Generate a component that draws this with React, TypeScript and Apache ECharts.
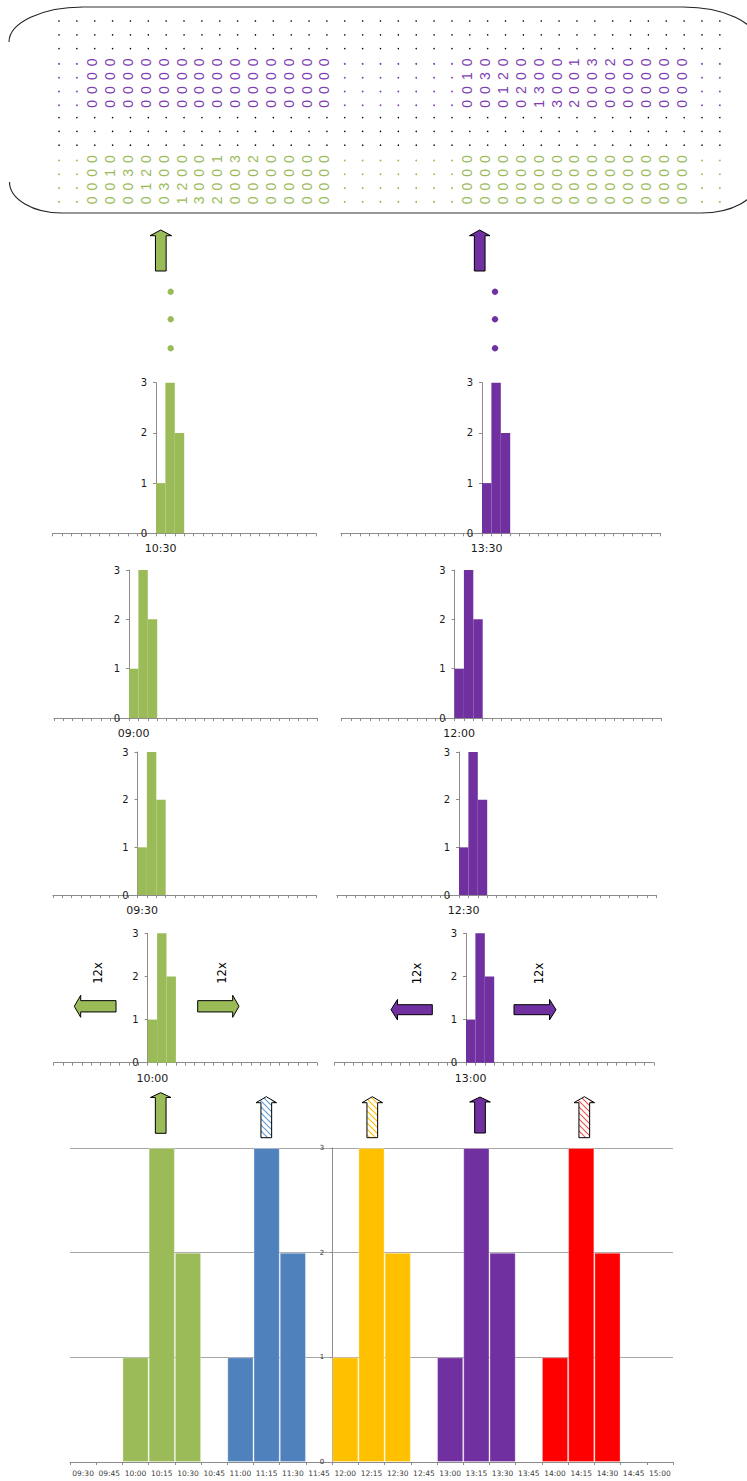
import React, { useEffect, useRef } from 'react';
import * as echarts from 'echarts';

// ---------- DATA ----------
const histValues = [1, 3, 2];

const leftCats = ['05:00', '05:30', '06:00', '06:30', '07:00', '07:30', '08:00', '08:30', '09:00', '09:30', '10:00', '10:30', '11:00', '11:30', '12:00', '12:30', '13:00', '13:30', '14:00', '14:30', '15:00', '15:30', '16:00', '16:30', '17:00', '17:30', '18:00', '18:30'];
const rightCats = ['06:00', '06:30', '07:00', '07:30', '08:00', '08:30', '09:00', '09:30', '10:00', '10:30', '11:00', '11:30', '12:00', '12:30', '13:00', '13:30', '14:00', '14:30', '15:00', '15:30', '16:00', '16:30', '17:00', '17:30', '18:00', '18:30', '19:00', '19:30', '20:00', '20:30', '21:00', '21:30', '22:00', '22:30'];
// rows of small charts, top to bottom
const leftStarts = ['10:30', '09:00', '09:30', '10:00'];
const rightStarts = ['13:30', '12:00', '12:30', '13:00'];

const bottomCats = ['09:30', '09:45', '10:00', '10:15', '10:30', '10:45', '11:00', '11:15', '11:30', '11:45', '12:00', '12:15', '12:30', '12:45', '13:00', '13:15', '13:30', '13:45', '14:00', '14:15', '14:30', '14:45', '15:00'];
const _ = null;
const greenBars = [_, _, 1, 3, 2, _, _, _, _, _, _, _, _, _, _, _, _, _, _, _, _, _, _];
const blueBars = [_, _, _, _, _, _, 1, 3, 2, _, _, _, _, _, _, _, _, _, _, _, _, _, _];
const orangeBars = [_, _, _, _, _, _, _, _, _, _, 1, 3, 2, _, _, _, _, _, _, _, _, _, _];
const purpleBars = [_, _, _, _, _, _, _, _, _, _, _, _, _, _, 1, 3, 2, _, _, _, _, _, _];
const redBars = [_, _, _, _, _, _, _, _, _, _, _, _, _, _, _, _, _, _, 1, 3, 2, _, _];

// top matrix
const rowKinds = ['k', 'k', 'k', 'p', 'p', 'p', 'p', 'k', 'k', 'k', 'g', 'g', 'g', 'g'];
const purpleLeft = [
  [0, 0, 0, 0, 0, 0, 0, 0, 0, 0, 0, 0, 0, 0],
  [0, 0, 0, 0, 0, 0, 0, 0, 0, 0, 0, 0, 0, 0],
  [0, 0, 0, 0, 0, 0, 0, 0, 0, 0, 0, 0, 0, 0],
  [0, 0, 0, 0, 0, 0, 0, 0, 0, 0, 0, 0, 0, 0],
];
const purpleRight = [
  [0, 0, 0, 0, 0, 0, 1, 3, 2, 0, 0, 0, 0],
  [1, 3, 2, 0, 0, 0, 0, 0, 0, 0, 0, 0, 0],
  [0, 0, 1, 2, 3, 0, 0, 0, 0, 0, 0, 0, 0],
  [0, 0, 0, 0, 1, 3, 2, 0, 0, 0, 0, 0, 0],
];
const greenLeft = [
  [0, 0, 0, 0, 0, 0, 0, 1, 3, 2, 0, 0, 0, 0],
  [0, 1, 3, 2, 0, 0, 0, 0, 0, 0, 0, 0, 0, 0],
  [0, 0, 0, 1, 3, 2, 0, 0, 0, 0, 0, 0, 0, 0],
  [0, 0, 0, 0, 0, 1, 3, 2, 0, 0, 0, 0, 0, 0],
];
const greenRight = [
  [0, 0, 0, 0, 0, 0, 0, 0, 0, 0, 0, 0, 0],
  [0, 0, 0, 0, 0, 0, 0, 0, 0, 0, 0, 0, 0],
  [0, 0, 0, 0, 0, 0, 0, 0, 0, 0, 0, 0, 0],
  [0, 0, 0, 0, 0, 0, 0, 0, 0, 0, 0, 0, 0],
];
const yTickValues = [0, 1, 2, 3];

// ---------- STYLE / LAYOUT ----------
const GREEN = '#9BBB59';
const PURPLE = '#7030A0';
const BLUE = '#4F81BD';
const ORANGE = '#FFC000';
const RED = '#FF0000';
const AXIS = '#8c8c8c';
const FONT = '"DejaVu Sans", sans-serif';

const MATRIX_COLS = 38;
const LEFT_BLOCK_START = 2;
const RIGHT_BLOCK_START = 23;

const catW = 9.4;
const rowTop = [382.7, 570, 752, 933.3];
const rowBottom = [533.3, 718, 895, 1062.7];
const leftAxisX = [156, 129, 137.5, 147.7];
const rightAxisX = [482, 454.5, 459, 466];

type Cell = { c: number; r: number; ch: string; color: string };

function buildCells(): Cell[] {
  const cells: Cell[] = [];
  let pi = 0;
  let gi = 0;
  rowKinds.forEach((kind, r) => {
    if (kind === 'k') {
      for (let c = 0; c < MATRIX_COLS; c++) cells.push({ c, r, ch: '.', color: '#000' });
      return;
    }
    const L = kind === 'p' ? purpleLeft[pi] : greenLeft[gi];
    const R = kind === 'p' ? purpleRight[pi] : greenRight[gi];
    const color = kind === 'p' ? '#7E3DB0' : '#9BBB59';
    for (let c = 0; c < MATRIX_COLS; c++) {
      let ch = '.';
      if (c >= LEFT_BLOCK_START && c < LEFT_BLOCK_START + L.length) ch = String(L[c - LEFT_BLOCK_START]);
      else if (c >= RIGHT_BLOCK_START && c < RIGHT_BLOCK_START + R.length) ch = String(R[c - RIGHT_BLOCK_START]);
      cells.push({ c, r, ch, color });
    }
    if (kind === 'p') pi++;
    else gi++;
  });
  return cells;
}

function hatch(color: string) {
  const svg = `<svg xmlns="http://www.w3.org/2000/svg" width="6" height="6"><rect width="6" height="6" fill="#ffffff"/><path d="M-1,-1 L7,7 M-1,5 L1,7 M5,-1 L7,1" stroke="${color}" stroke-width="1.1"/></svg>`;
  return {
    image: 'data:image/svg+xml;charset=utf-8,' + encodeURIComponent(svg),
    repeat: 'repeat',
    imageWidth: 6,
    imageHeight: 6,
  };
}

function upArrow(cx: number, tip: number, base: number, bottom: number, hw: number, sw: number, fill: any) {
  return {
    type: 'polygon',
    shape: {
      points: [[cx, tip], [cx + hw, base], [cx + sw, base], [cx + sw, bottom], [cx - sw, bottom], [cx - sw, base], [cx - hw, base]],
    },
    style: { fill, stroke: '#000', lineWidth: 1 },
    silent: true,
  };
}

function hArrow(tail: number, headBase: number, tip: number, cy: number, hh: number, sh: number, fill: string) {
  return {
    type: 'polygon',
    shape: {
      points: [[tip, cy], [headBase, cy - hh], [headBase, cy - sh], [tail, cy - sh], [tail, cy + sh], [headBase, cy + sh], [headBase, cy + hh]],
    },
    style: { fill, stroke: '#000', lineWidth: 1 },
    silent: true,
  };
}

function vText(x: number, y: number, text: string) {
  return {
    type: 'text',
    x,
    y,
    rotation: Math.PI / 2,
    style: { text, x: 0, y: 0, textAlign: 'center', textVerticalAlign: 'middle', font: `11.5px ${FONT}`, fill: '#000' },
    silent: true,
  };
}

function bez(x1: number, y1: number, cpx1: number, cpy1: number, cpx2: number, cpy2: number, x2: number, y2: number) {
  return {
    type: 'bezierCurve',
    shape: { x1, y1, cpx1, cpy1, cpx2, cpy2, x2, y2 },
    style: { stroke: '#222', lineWidth: 1.1, fill: 'none' },
    silent: true,
  };
}

function line(x1: number, y1: number, x2: number, y2: number) {
  return {
    type: 'line',
    shape: { x1, y1, x2, y2 },
    style: { stroke: '#333', lineWidth: 1.1 },
    silent: true,
  };
}

function buildOption() {
  const grids: any[] = [];
  const xAxes: any[] = [];
  const yAxes: any[] = [];
  const series: any[] = [];

  // ---- matrix ----
  const cells = buildCells();
  grids.push({ left: 59, top: 21, width: 37 * 17.86, height: 13 * 13.8, outerBoundsMode: 'none' });
  xAxes.push({ type: 'value', gridIndex: 0, min: 0, max: MATRIX_COLS - 1, show: false });
  yAxes.push({ type: 'value', gridIndex: 0, min: 0, max: rowKinds.length - 1, inverse: true, show: false });
  series.push({
    type: 'custom',
    xAxisIndex: 0,
    yAxisIndex: 0,
    silent: true,
    data: cells.map((d) => [d.c, d.r]),
    renderItem: (params: any, api: any) => {
      const cell = cells[params.dataIndex];
      const p = api.coord([cell.c, cell.r]);
      if (cell.ch === '.') {
        const black = cell.color === '#000';
        return {
          type: 'circle',
          shape: { cx: p[0], cy: p[1] + (black ? 0 : 1.5), r: black ? 0.75 : 0.9 },
          style: { fill: cell.color },
        };
      }
      return {
        type: 'text',
        x: p[0] - 2.5,
        y: p[1],
        rotation: Math.PI / 2,
        style: {
          text: cell.ch,
          x: 0,
          y: 0,
          textAlign: 'center',
          textVerticalAlign: 'middle',
          fill: cell.color,
          font: '14px "Liberation Sans", sans-serif',
        },
      };
    },
  });

  // ---- small charts ----
  const sides = [
    { cats: leftCats, starts: leftStarts, axisX: leftAxisX, color: GREEN },
    { cats: rightCats, starts: rightStarts, axisX: rightAxisX, color: PURPLE },
  ];
  for (let row = 0; row < 4; row++) {
    sides.forEach((s) => {
      const k = s.cats.indexOf(s.starts[row]);
      const g = grids.length;
      grids.push({
        left: s.axisX[row] - catW * k,
        top: rowTop[row],
        width: catW * s.cats.length,
        height: rowBottom[row] - rowTop[row],
        outerBoundsMode: 'none',
      });
      xAxes.push({
        type: 'category',
        gridIndex: g,
        data: s.cats,
        boundaryGap: true,
        axisLine: { show: true, lineStyle: { color: AXIS, width: 1 } },
        axisTick: { show: true, interval: 0, length: 3, lineStyle: { color: AXIS } },
        axisLabel: {
          interval: 0,
          formatter: (v: string, i: number) => (i === k ? v : ''),
          color: '#1a1a1a',
          fontSize: 11,
          fontFamily: FONT,
          margin: 10,
        },
        splitLine: { show: false },
      });
      yAxes.push({
        type: 'value',
        gridIndex: g,
        min: yTickValues[0],
        max: yTickValues[yTickValues.length - 1],
        interval: 1,
        position: 'left',
        offset: -catW * k,
        axisLine: { show: true, lineStyle: { color: AXIS, width: 1 } },
        axisTick: { show: true, length: 3, lineStyle: { color: AXIS } },
        axisLabel: { color: '#1a1a1a', fontSize: 10, fontFamily: FONT, margin: 9 },
        splitLine: { show: false },
      });
      const data: (number | null)[] = s.cats.map(() => null);
      histValues.forEach((v, j) => {
        data[k + j] = v;
      });
      series.push({
        type: 'bar',
        xAxisIndex: g,
        yAxisIndex: g,
        data,
        barCategoryGap: '0%',
        itemStyle: { color: s.color },
        silent: true,
      });
    });
  }

  // ---- bottom chart ----
  const bg = grids.length;
  const bLeft = 70;
  const bWidth = 603;
  const bCat = bWidth / bottomCats.length;
  const yAxisCat = bottomCats.indexOf('12:00');
  grids.push({ left: bLeft, top: 1148, width: bWidth, height: 314, outerBoundsMode: 'none' });
  xAxes.push({
    type: 'category',
    gridIndex: bg,
    data: bottomCats,
    boundaryGap: true,
    axisLine: { show: true, lineStyle: { color: AXIS, width: 1 } },
    axisTick: { show: true, interval: 0, length: 3, lineStyle: { color: AXIS } },
    axisLabel: { interval: 0, color: '#404040', fontSize: 7.5, fontFamily: FONT, margin: 7 },
    splitLine: { show: false },
  });
  yAxes.push({
    type: 'value',
    gridIndex: bg,
    min: 0,
    max: 3,
    interval: 1,
    position: 'left',
    offset: -bCat * yAxisCat,
    axisLine: { show: true, lineStyle: { color: AXIS, width: 1 } },
    axisTick: { show: true, length: 2, lineStyle: { color: AXIS } },
    axisLabel: { color: '#333', fontSize: 7, fontFamily: FONT, margin: 8 },
    splitLine: { show: true, lineStyle: { color: '#a6a6a6', width: 1 } },
  });
  const bottomSeries = [
    { data: greenBars, color: GREEN },
    { data: blueBars, color: BLUE },
    { data: orangeBars, color: ORANGE },
    { data: purpleBars, color: PURPLE },
    { data: redBars, color: RED },
  ];
  bottomSeries.forEach((s) => {
    series.push({
      type: 'bar',
      xAxisIndex: bg,
      yAxisIndex: bg,
      stack: 'all',
      data: s.data,
      barCategoryGap: '0%',
      itemStyle: { color: s.color, borderColor: 'rgba(255,255,255,0.3)', borderWidth: 1 },
      silent: true,
    });
  });

  // ---- decorations ----
  const graphic: any[] = [
    // matrix outline
    line(83, 7, 683, 7),
    line(62, 213, 701, 213),
    bez(9, 42, 9, 22.7, 42.1, 7, 83, 7),
    bez(683, 7, 723.9, 7, 757, 22.7, 757, 42),
    bez(757, 182, 757, 199.1, 731.9, 213, 701, 213),
    bez(62, 213, 33, 213, 9.5, 199.1, 9.5, 182),
    // arrows up from the top histograms
    upArrow(160.8, 230, 235.7, 271, 10.8, 5.35, GREEN),
    upArrow(479.7, 230, 235.7, 271, 10.3, 5.35, PURPLE),
    // ellipsis dots
    ...[291.7, 319.3, 348.3].map((y) => ({ type: 'circle', shape: { cx: 170.7, cy: y, r: 3.2 }, style: { fill: GREEN }, silent: true })),
    ...[291.7, 319.3, 348.3].map((y) => ({ type: 'circle', shape: { cx: 495, cy: y, r: 3.2 }, style: { fill: PURPLE }, silent: true })),
    // 12x arrows
    hArrow(116, 80.7, 74.3, 1006.3, 11, 5.65, GREEN),
    hArrow(197.7, 232.7, 239, 1006.3, 11, 5.65, GREEN),
    hArrow(432.3, 397.5, 391, 1009.7, 10.3, 5, PURPLE),
    hArrow(514, 549.5, 556, 1009.7, 10.3, 5, PURPLE),
    vText(98.3, 973, '12x'),
    vText(221.7, 973, '12x'),
    vText(416.7, 973.5, '12x'),
    vText(539, 973.5, '12x'),
    // arrows above bottom chart
    upArrow(160.7, 1092.7, 1097.5, 1133.3, 10.3, 5.35, GREEN),
    upArrow(266.3, 1096.7, 1102.7, 1137.7, 10.3, 5.35, hatch('#5B9BD5')),
    upArrow(372.3, 1096.7, 1102.7, 1137.7, 10.3, 5.35, hatch(ORANGE)),
    upArrow(480, 1097, 1102, 1133, 10.3, 5.35, PURPLE),
    upArrow(584.3, 1096.7, 1102.7, 1137.7, 10.3, 5.35, hatch('#F05050')),
  ];

  return {
    animation: false,
    backgroundColor: '#ffffff',
    textStyle: { fontFamily: FONT },
    grid: grids,
    xAxis: xAxes,
    yAxis: yAxes,
    series,
    graphic,
  };
}

export default function App() {
  const ref = useRef<HTMLDivElement>(null);
  useEffect(() => {
    if (!ref.current) return;
    const chart = echarts.init(ref.current, null, { renderer: 'svg' });
    chart.setOption(buildOption() as any);
    return () => {
      chart.dispose();
    };
  }, []);
  return (
    <div
      ref={ref}
      style={{ position: 'absolute', left: 0, top: 0, width: 747, height: 1481, background: '#fff' }}
    />
  );
}
